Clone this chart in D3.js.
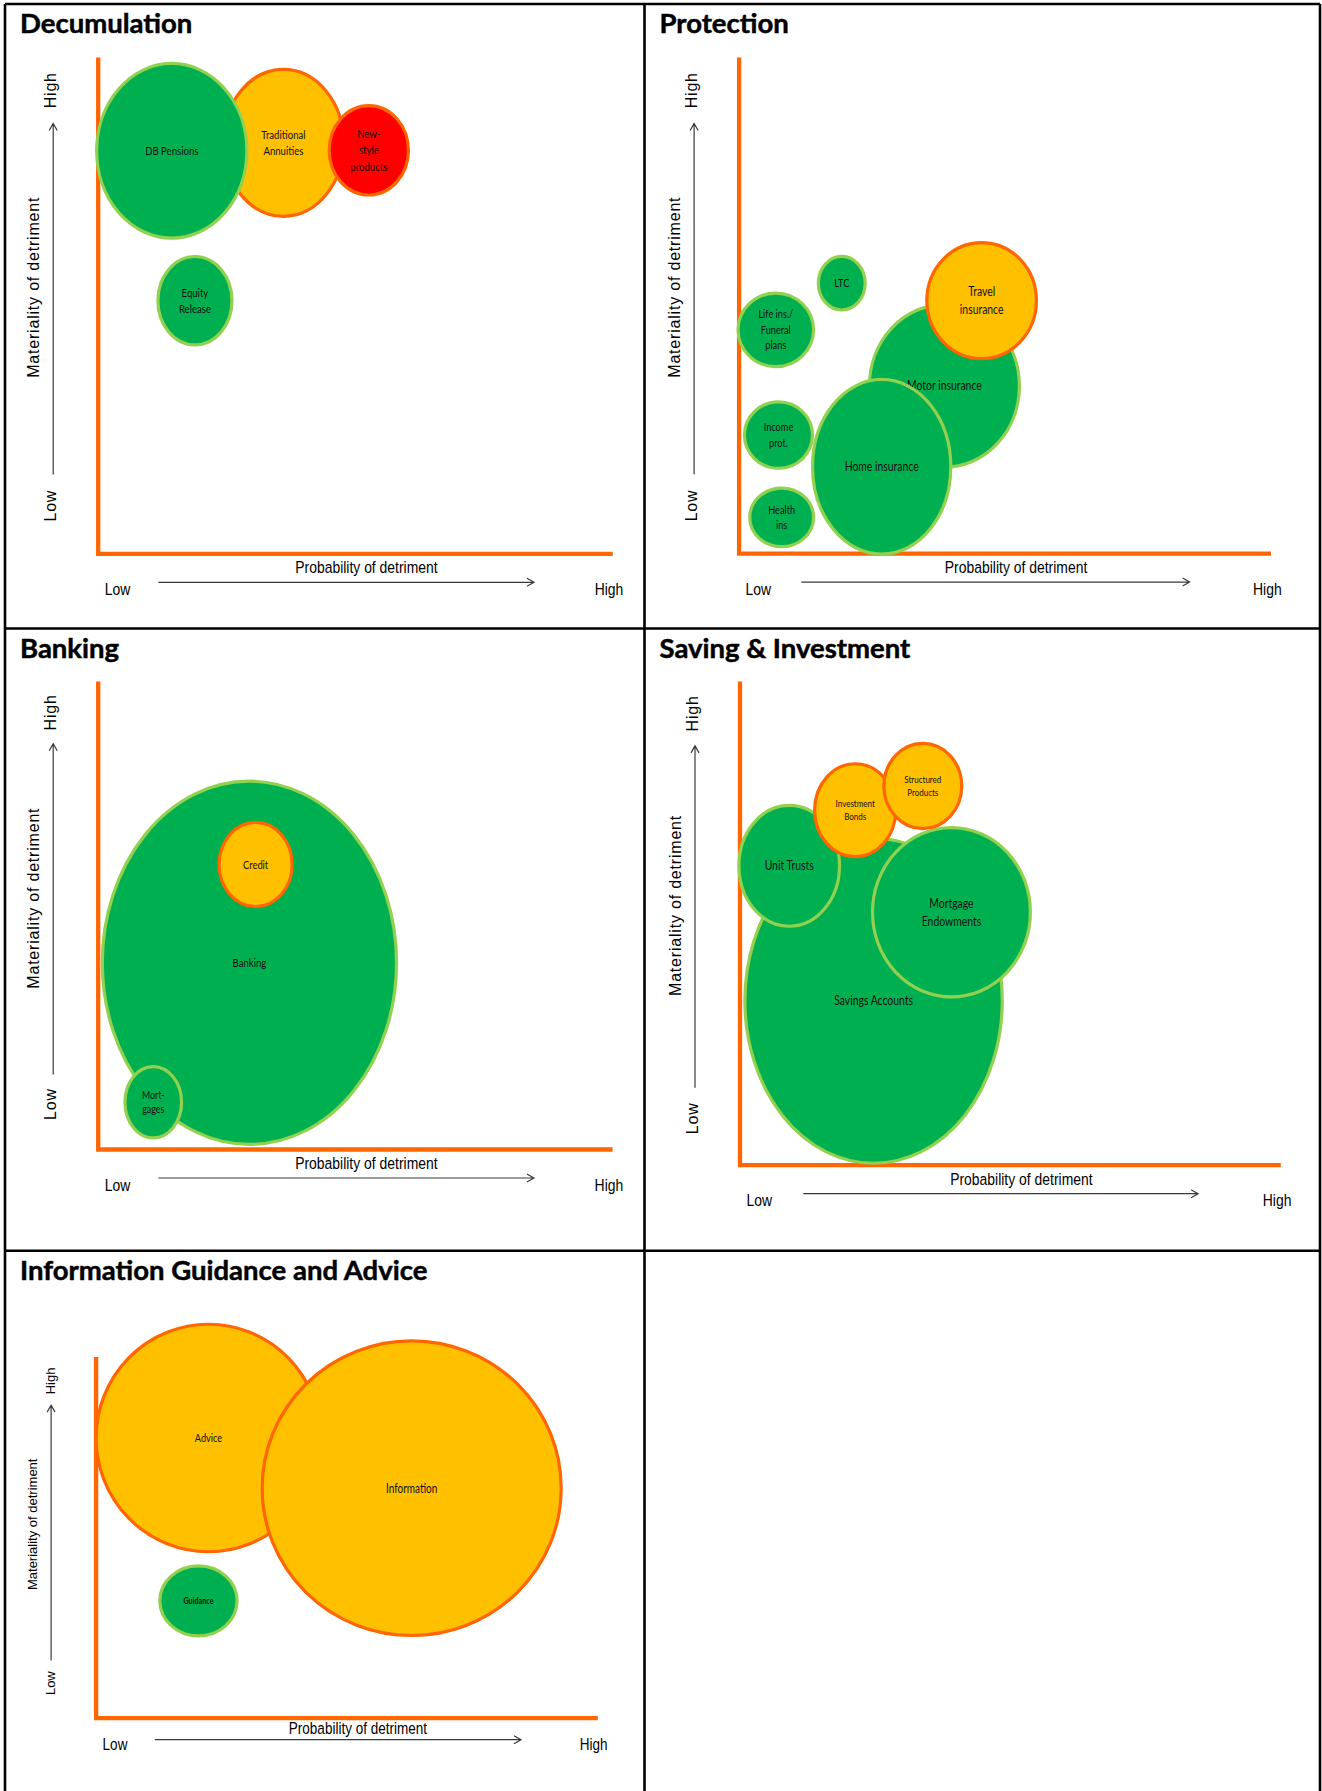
<!DOCTYPE html>
<html>
<head>
<meta charset="utf-8">
<script src="https://cdnjs.cloudflare.com/ajax/libs/d3/7.8.5/d3.min.js"></script>
<style>
  body { margin: 0; background: #fff; }
  svg { display: block; }
</style>
</head>
<body>
<svg id="chart"></svg>
<script>
var W = 1322, H = 1791;

var titles = ["Decumulation", "Protection", "Banking", "Saving & Investment", "Information Guidance and Advice"];
var xCaption = "Probability of detriment";
var yCaption = "Materiality of detriment";
var ends = ["Low", "High"];

// bubbles: prob / mat = centre on 0-100 axes, dp / dm = half extent on each axis
var decumulation = [
    {name: "Traditional\nAnnuities", prob: 36.0, mat: 82.8, dp: 11.7, dm: 14.8, risk: "medium"},
    {name: "DB Pensions",            prob: 14.3, mat: 81.2, dp: 14.6, dm: 17.6, risk: "low"},
    {name: "New-\nstyle\nproducts",  prob: 52.6, mat: 81.3, dp: 7.7,  dm: 9.0,  risk: "high"},
    {name: "Equity\nRelease",        prob: 18.8, mat: 51.0, dp: 7.2,  dm: 8.9,  risk: "low"}
];

var protection = [
    {name: "Motor insurance",            prob: 38.6, mat: 33.8, dp: 14.1, dm: 16.4, risk: "low"},
    {name: "Travel\ninsurance",          prob: 45.6, mat: 51.0, dp: 10.3, dm: 11.7, risk: "medium"},
    {name: "Home insurance",             prob: 26.8, mat: 17.5, dp: 13.0, dm: 17.6, risk: "low"},
    {name: "LTC",                        prob: 19.3, mat: 54.5, dp: 4.4,  dm: 5.4,  risk: "low"},
    {name: "Life ins./\nFuneral\nplans", prob: 6.9,  mat: 45.1, dp: 7.1,  dm: 7.4,  risk: "low"},
    {name: "Income\nprot.",              prob: 7.4,  mat: 23.9, dp: 6.4,  dm: 6.7,  risk: "low"},
    {name: "Health\nins",                prob: 8.0,  mat: 7.3,  dp: 6.0,  dm: 5.9,  risk: "low"}
];

var banking = [
    {name: "Banking",      prob: 29.4, mat: 39.9, dp: 28.6, dm: 38.8, risk: "low"},
    {name: "Credit",       prob: 30.6, mat: 60.9, dp: 7.1,  dm: 9.0,  risk: "medium"},
    {name: "Mort-\ngages", prob: 10.7, mat: 10.1, dp: 5.5,  dm: 7.6,  risk: "low"}
];

var savingInvestment = [
    {name: "Savings Accounts",       prob: 24.7, mat: 34.0, dp: 23.8, dm: 33.6, risk: "low"},
    {name: "Unit Trusts",            prob: 9.1,  mat: 61.9, dp: 9.3,  dm: 12.5, risk: "low"},
    {name: "Mortgage\nEndowments",   prob: 39.1, mat: 52.3, dp: 14.6, dm: 17.5, risk: "low"},
    {name: "Investment\nBonds",      prob: 21.3, mat: 73.4, dp: 7.5,  dm: 9.6,  risk: "medium"},
    {name: "Structured\nProducts",   prob: 33.8, mat: 78.4, dp: 7.2,  dm: 8.8,  risk: "medium"}
];

var guidance = [
    {name: "Advice",      prob: 22.4, mat: 77.6, dp: 22.4, dm: 31.5, risk: "medium"},
    {name: "Information", prob: 62.9, mat: 63.7, dp: 29.8, dm: 40.8, risk: "medium"},
    {name: "Guidance",    prob: 20.4, mat: 32.5, dp: 7.7,  dm: 9.7,  risk: "low"}
];

var riskFill   = {low: "#00B050", medium: "#FFC000", high: "#FF0000"};
var riskStroke = {low: "#92D050", medium: "#FF6600", high: "#FF6600"};

// label sizes that differ from the default
var labelSize = {
    "Motor insurance": 13, "Home insurance": 13, "Travel\ninsurance": 13,
    "Life ins./\nFuneral\nplans": 11.5, "Income\nprot.": 11.5, "Health\nins": 11.5, "LTC": 11.5,
    "Mort-\ngages": 11, "Credit": 11.7,
    "Unit Trusts": 13, "Mortgage\nEndowments": 13, "Savings Accounts": 13,
    "Investment\nBonds": 10, "Structured\nProducts": 10,
    "Advice": 11.5, "Information": 12.5, "Guidance": 9
};

// where each panel sits on the page
var layout = [
    {cellX: 5,     cellY: 4,      x0: 98.2,  x1: 612.7,  yb: 553.8,  yt: 57.5,   compact: false},
    {cellX: 644.5, cellY: 4,      x0: 739.1, x1: 1271,   yb: 553.6,  yt: 57.5,   compact: false},
    {cellX: 5,     cellY: 628.5,  x0: 98.2,  x1: 612.6,  yb: 1149.5, yt: 681.5,  compact: false},
    {cellX: 644.5, cellY: 628.5,  x0: 740,   x1: 1280.8, yb: 1165.2, yt: 681.5,  compact: false},
    {cellX: 5,     cellY: 1250.8, x0: 96.1,  x1: 597.8,  yb: 1718.2, yt: 1357.1, compact: true}
];

var panels = [
    {title: titles[0], bubbles: decumulation,     box: layout[0]},
    {title: titles[1], bubbles: protection,       box: layout[1]},
    {title: titles[2], bubbles: banking,          box: layout[2]},
    {title: titles[3], bubbles: savingInvestment, box: layout[3]},
    {title: titles[4], bubbles: guidance,         box: layout[4]}
];

var AXIS_ORANGE = "#FF6600";
var ARROW_GREY = "#3a3a3a";
var NARROW = 0.82;      // Arial Narrow look
var CONDENSE = 0.8;     // bubble label squeeze

var svg = d3.select("#chart").attr("width", W).attr("height", H);

function drawFrame() {
    var frame = svg.append("g").attr("class", "frame")
        .attr("stroke", "#000").attr("stroke-width", 2.6);
    var lines = [
        [5, 4, 1320, 4],
        [5, 4, 5, H],
        [1320, 4, 1320, H],
        [644.5, 4, 644.5, H],
        [5, 628.5, 1320, 628.5],
        [5, 1250.8, 1320, 1250.8]
    ];
    frame.selectAll("line").data(lines).enter().append("line")
        .attr("x1", function(d){ return d[0]; })
        .attr("y1", function(d){ return d[1]; })
        .attr("x2", function(d){ return d[2]; })
        .attr("y2", function(d){ return d[3]; });
}

function narrowText(sel, x, y, str, size, anchor) {
    return sel.append("text")
        .attr("transform", "translate(" + x + "," + y + ") scale(" + NARROW + ",1)")
        .attr("text-anchor", anchor)
        .attr("font-family", "'Liberation Sans', Arial, sans-serif")
        .attr("font-size", size)
        .attr("fill", "#000")
        .text(str);
}

function rotatedText(sel, x, y, str, size, spacing) {
    return sel.append("text")
        .attr("transform", "translate(" + x + "," + y + ") rotate(-90)")
        .attr("text-anchor", "middle")
        .attr("font-family", "'Liberation Sans', Arial, sans-serif")
        .attr("font-size", size)
        .attr("letter-spacing", spacing)
        .attr("fill", "#000")
        .text(str);
}

function drawPanel(p) {
    var b = p.box;
    var x = d3.scaleLinear().domain([0, 100]).range([b.x0, b.x1]);
    var y = d3.scaleLinear().domain([0, 100]).range([b.yb, b.yt]);
    var w = b.x1 - b.x0, h = b.yb - b.yt;

    var g = svg.append("g").attr("class", "panel");

    g.append("text")
        .attr("x", b.cellX + 15).attr("y", b.cellY + 29)
        .attr("font-family", "Lato, 'Open Sans', sans-serif")
        .attr("font-weight", 700)
        .attr("font-size", 27.5)
        .attr("fill", "#000")
        .attr("stroke", "#000")
        .attr("stroke-width", 0.5)
        .text(p.title);

    // orange L axis
    g.append("path")
        .attr("d", "M" + x(0) + "," + y(100) + "V" + y(0) + "H" + x(100))
        .attr("fill", "none")
        .attr("stroke", AXIS_ORANGE)
        .attr("stroke-width", 4.3);

    // x caption, arrow and ends
    var capDy = b.compact ? 15.3 : 19.5;
    var endDy = b.compact ? 31.8 : 41;
    var arrDy = b.compact ? 21.5 : 28.5;
    var xSize = b.compact ? 16.5 : 17;

    narrowText(g, (b.x0 + b.x1) / 2 + 11, b.yb + capDy, xCaption, xSize, "middle");
    narrowText(g, b.x0 + 6.5, b.yb + endDy, ends[0], xSize, "start");
    narrowText(g, b.x1 - 18, b.yb + endDy, ends[1], xSize, "start");

    var ax0 = b.x0 + 0.117 * w, ax1 = b.x1 - 0.153 * w, ay = b.yb + arrDy;
    g.append("path")
        .attr("d", "M" + ax0 + "," + ay + "H" + ax1 +
                   "M" + (ax1 - 7) + "," + (ay - 4) + "L" + ax1 + "," + ay + "L" + (ax1 - 7) + "," + (ay + 4))
        .attr("fill", "none").attr("stroke", ARROW_GREY).attr("stroke-width", 1.2);

    // y caption, arrow and ends
    var ySize = b.compact ? 13 : 16;
    var ySpacing = b.compact ? 0 : 0.8;
    var vx = b.x0 - 45;
    var vy0 = b.yb - 0.16 * h, vy1 = b.yt + 0.133 * h;
    g.append("path")
        .attr("d", "M" + vx + "," + vy0 + "V" + vy1 +
                   "M" + (vx - 4) + "," + (vy1 + 7) + "L" + vx + "," + vy1 + "L" + (vx + 4) + "," + (vy1 + 7))
        .attr("fill", "none").attr("stroke", ARROW_GREY).attr("stroke-width", 1.2);

    var endX = b.compact ? b.x0 - 41 : b.x0 - 42;
    rotatedText(g, endX, b.yt + 0.066 * h, ends[1], ySize, ySpacing);
    rotatedText(g, endX, b.yb - 0.097 * h, ends[0], ySize, ySpacing);
    rotatedText(g, b.x0 - 59.5, b.yt + 0.463 * h, yCaption, ySize, ySpacing);

    // bubbles
    var bubble = g.selectAll(".bubble")
        .data(p.bubbles)
        .enter()
        .append("g").attr("class", "bubble");

    bubble.append("ellipse")
        .attr("cx", function(d){ return x(d.prob); })
        .attr("cy", function(d){ return y(d.mat); })
        .attr("rx", function(d){ return x(d.dp) - x(0); })
        .attr("ry", function(d){ return y(0) - y(d.dm); })
        .attr("fill", function(d){ return riskFill[d.risk]; })
        .attr("stroke", function(d){ return riskStroke[d.risk]; })
        .attr("stroke-width", 3.2);

    bubble.each(function(d) {
        var size = labelSize[d.name] || 12;
        var lh = size * 1.35;
        var lines = d.name.split("\n");
        var top = y(d.mat) - (lines.length - 1) * lh / 2 + size * 0.35;
        var t = d3.select(this).append("text")
            .attr("transform", "translate(" + x(d.prob) + "," + top + ") scale(" + CONDENSE + ",1)")
            .attr("text-anchor", "middle")
            .attr("font-family", "Lato, 'Open Sans', sans-serif")
            .attr("font-size", size)
            .attr("font-weight", d.name === "Guidance" ? 700 : 400)
            .attr("fill", "#111");
        t.selectAll("tspan").data(lines).enter().append("tspan")
            .attr("x", 0)
            .attr("dy", function(l, i){ return i === 0 ? 0 : lh; })
            .text(function(l){ return l; });
    });
}

drawFrame();
panels.forEach(drawPanel);
</script>
</body>
</html>
